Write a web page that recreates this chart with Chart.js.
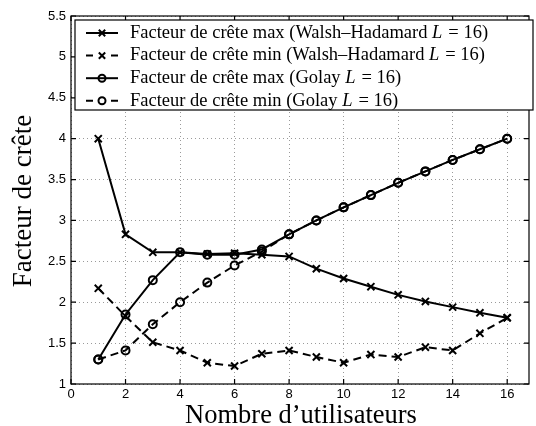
<!DOCTYPE html>
<html>
<head>
<meta charset="utf-8">
<script src="https://cdn.jsdelivr.net/npm/chart.js@4"></script>
<style>
  html, body { margin: 0; padding: 0; background: #fff; }
  #wrap { width: 536px; height: 426px; }
</style>
</head>
<body>
<div id="wrap"><canvas id="crete" width="536" height="426"></canvas></div>
<script>
const utilisateurs = [1, 2, 3, 4, 5, 6, 7, 8, 9, 10, 11, 12, 13, 14, 15, 16]
const wh_max = [4.0, 2.83, 2.61, 2.61, 2.59, 2.60, 2.58, 2.56, 2.41, 2.29, 2.19, 2.09, 2.01, 1.94, 1.87, 1.81]
const wh_min = [2.17, 1.83, 1.51, 1.41, 1.26, 1.22, 1.37, 1.41, 1.33, 1.26, 1.36, 1.33, 1.45, 1.41, 1.62, 1.81]
const golay_max = [1.30, 1.85, 2.27, 2.61, 2.58, 2.58, 2.645, 2.83, 3.0, 3.16, 3.31, 3.46, 3.60, 3.74, 3.87, 4.0]
const golay_min = [1.30, 1.41, 1.73, 2.0, 2.24, 2.45, 2.62, 2.83, 3.0, 3.16, 3.31, 3.46, 3.60, 3.74, 3.87, 4.0]
const xTicks = [0, 2, 4, 6, 8, 10, 12, 14, 16]
const yTicks = [1, 1.5, 2, 2.5, 3, 3.5, 4, 4.5, 5, 5.5]
const legendLabels = [
    'Facteur de crête max (Walsh–Hadamard ',
    'Facteur de crête min (Walsh–Hadamard ',
    'Facteur de crête max (Golay ',
    'Facteur de crête min (Golay '
]

const points = (ys) => ys.map((y, i) => ({x: utilisateurs[i], y: y}))

const serie = (ys, style, dashed) => ({
    data: points(ys),
    borderColor: '#000',
    borderWidth: 2,
    borderDash: dashed ? [8, 5] : [],
    pointStyle: style,
    pointRadius: style === 'crossRot' ? 5 : 4,
    pointBorderWidth: 2,
    pointBorderColor: '#000',
    pointBackgroundColor: 'rgba(0,0,0,0)',
    fill: false,
    tension: 0
})

// cadre, graduations internes, titres et légende
const decor = {
    id: 'decor',
    afterDraw(chart) {
        const ctx = chart.ctx
        const a = chart.chartArea
        const sx = chart.scales.x, sy = chart.scales.y
        ctx.save()
        ctx.strokeStyle = '#000'
        ctx.lineWidth = 1.2
        ctx.setLineDash([])
        ctx.strokeRect(a.left, a.top, a.right - a.left, a.bottom - a.top)
        ctx.beginPath()
        xTicks.forEach(v => {
            const px = sx.getPixelForValue(v)
            ctx.moveTo(px, a.bottom); ctx.lineTo(px, a.bottom - 5)
            ctx.moveTo(px, a.top); ctx.lineTo(px, a.top + 5)
        })
        yTicks.forEach(v => {
            const py = sy.getPixelForValue(v)
            ctx.moveTo(a.left, py); ctx.lineTo(a.left + 5, py)
            ctx.moveTo(a.right, py); ctx.lineTo(a.right - 5, py)
        })
        ctx.stroke()

        // titres des axes
        ctx.fillStyle = '#000'
        ctx.font = '26.5px "Liberation Serif"'
        ctx.textAlign = 'center'
        ctx.textBaseline = 'alphabetic'
        ctx.fillText('Nombre d’utilisateurs', (a.left + a.right) / 2 + 1, 423)
        ctx.font = '27px "Liberation Serif"'
        ctx.translate(31, 201)
        ctx.rotate(-Math.PI / 2)
        ctx.fillText('Facteur de crête', 0, 0)
        ctx.restore()

        // légende
        ctx.save()
        const bx = 75, by = 20, bw = 458, bh = 90
        ctx.fillStyle = '#fff'
        ctx.fillRect(bx, by, bw, bh)
        ctx.strokeStyle = '#000'
        ctx.lineWidth = 1.2
        ctx.strokeRect(bx, by, bw, bh)
        const styles = ['crossRot', 'crossRot', 'circle', 'circle']
        const dashed = [false, true, false, true]
        legendLabels.forEach((txt, i) => {
            const y = 33 + i * 22.6
            ctx.lineWidth = 2
            ctx.strokeStyle = '#000'
            ctx.beginPath()
            if (dashed[i]) {
                ctx.moveTo(86, y); ctx.lineTo(93, y)
                ctx.moveTo(111, y); ctx.lineTo(118, y)
            } else {
                ctx.moveTo(86, y); ctx.lineTo(118, y)
            }
            ctx.stroke()
            ctx.fillStyle = 'rgba(0,0,0,0)'
            Chart.helpers.drawPoint(ctx, {
                pointStyle: styles[i],
                radius: styles[i] === 'crossRot' ? 4.5 : 3.5,
                borderWidth: 2
            }, 102, y)
            ctx.fillStyle = '#000'
            ctx.textAlign = 'left'
            ctx.textBaseline = 'middle'
            ctx.font = '18.5px "Liberation Serif"'
            let x = 130
            ctx.fillText(txt, x, y)
            x += ctx.measureText(txt).width
            ctx.font = 'italic 18.5px "Liberation Serif"'
            ctx.fillText('L', x, y)
            x += ctx.measureText('L').width
            ctx.font = '18.5px "Liberation Serif"'
            ctx.fillText('= 16)', x + 6, y)
        })
        ctx.restore()
    }
}

const crete = document.getElementById('crete').getContext('2d')

new Chart(crete, {
    type: 'line',
    data: {
        datasets: [
            serie(wh_max, 'crossRot', false),
            serie(wh_min, 'crossRot', true),
            serie(golay_max, 'circle', false),
            serie(golay_min, 'circle', true)
        ]
    },
    options: {
        responsive: false,
        animation: false,
        layout: { padding: { top: 16, right: 2, left: 0, bottom: 0 } },
        scales: {
            x: {
                type: 'linear',
                min: 0,
                max: 16.8,
                afterBuildTicks: (s) => { s.ticks = xTicks.map(v => ({value: v})) },
                afterFit: (s) => { s.height = 42 },
                grid: { color: '#9a9a9a', lineWidth: 1, tickLength: 0, drawTicks: false },
                border: { display: false, dash: [1, 3] },
                ticks: {
                    color: '#000',
                    padding: 3,
                    maxRotation: 0,
                    callback: (v) => String(v),
                    font: { family: '"Liberation Sans"', size: 13 }
                }
            },
            y: {
                type: 'linear',
                min: 1,
                max: 5.5,
                afterBuildTicks: (s) => { s.ticks = yTicks.map(v => ({value: v})) },
                afterFit: (s) => { s.width = 71 },
                grid: { color: '#9a9a9a', lineWidth: 1, tickLength: 0, drawTicks: false },
                border: { display: false, dash: [1, 3] },
                ticks: {
                    color: '#000',
                    padding: 5,
                    callback: (v) => String(v),
                    font: { family: '"Liberation Sans"', size: 13 }
                }
            }
        },
        plugins: {
            legend: { display: false },
            tooltip: { enabled: false }
        }
    },
    plugins: [decor]
});
</script>
</body>
</html>
